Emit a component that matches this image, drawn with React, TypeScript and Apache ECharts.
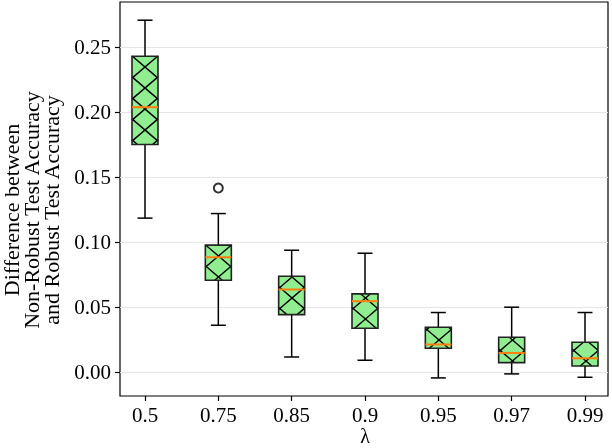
import React, { useEffect, useRef } from "react";
import * as echarts from "echarts";

const CATEGORIES = ["0.5", "0.75", "0.85", "0.9", "0.95", "0.97", "0.99"];
// [low whisker, Q1, median, Q3, high whisker]
const LOW = [0.1183, 0.0359, 0.0115, 0.009, -0.0046, -0.0015, -0.0041];
const Q1 = [0.1749, 0.0705, 0.0441, 0.0336, 0.0182, 0.0072, 0.0046];
const MEDIAN = [0.2036, 0.0882, 0.0634, 0.0544, 0.0211, 0.0146, 0.0105];
const Q3 = [0.2428, 0.0975, 0.0736, 0.06, 0.0344, 0.0267, 0.0228];
const HIGH = [0.2705, 0.1218, 0.0936, 0.0913, 0.0457, 0.0498, 0.0457];
const OUTLIERS: [number, number][] = [[1, 0.1415]];
const Y_TICKS = [0, 0.05, 0.1, 0.15, 0.2, 0.25];
const Y_MIN = -0.0185;
const Y_MAX = 0.2845;

const FONT = '"Liberation Serif", "Times New Roman", serif';

export default function App() {
  const ref = useRef<HTMLDivElement>(null);
  useEffect(() => {
    if (!ref.current) return;
    const chart = echarts.init(ref.current, null, { renderer: "svg" });
    const boxData = CATEGORIES.map((_, i) => [i, LOW[i], Q1[i], MEDIAN[i], Q3[i], HIGH[i]]);

    const HX = 24.5;
    const HY = 21;
    const HY0 = 67;

    const renderItem = (params: any, api: any) => {
      const i = api.value(0);
      const low = api.coord([i, api.value(1)]);
      const q1 = api.coord([i, api.value(2)]);
      const med = api.coord([i, api.value(3)]);
      const q3 = api.coord([i, api.value(4)]);
      const high = api.coord([i, api.value(5)]);
      const x0 = api.coord([0, 0])[0];
      const cx = low[0];
      const bw = 26;
      const half = bw / 2;
      const cap = 7.5;
      const xl = cx - half;
      const xr = cx + half;
      const yt = q3[1];
      const yb = q1[1];
      const wl = { stroke: "#000", lineWidth: 1.5 };
      const children: any[] = [
        { type: "line", shape: { x1: cx, y1: yt, x2: cx, y2: high[1] }, style: wl },
        { type: "line", shape: { x1: cx, y1: yb, x2: cx, y2: low[1] }, style: wl },
        { type: "line", shape: { x1: cx - cap, y1: high[1], x2: cx + cap, y2: high[1] }, style: wl },
        { type: "line", shape: { x1: cx - cap, y1: low[1], x2: cx + cap, y2: low[1] }, style: wl },
        { type: "rect", shape: { x: xl, y: yt, width: bw, height: yb - yt }, style: { fill: "#90ee90", stroke: "none" } },
      ];
      const s = HY / HX;
      const hs = { stroke: "#000", lineWidth: 1.4 };
      const kMin = Math.floor((yt - HY0 - Math.abs(xr - x0) * s - Math.abs(xl - x0) * s) / HY) - 2;
      const kMax = Math.ceil((yb - HY0 + Math.abs(xr - x0) * s + Math.abs(xl - x0) * s) / HY) + 2;
      for (let k = kMin; k <= kMax; k++) {
        const a = HY0 + k * HY - x0 * s;
        let xa = Math.max(xl, (yt - a) / s);
        let xb = Math.min(xr, (yb - a) / s);
        if (xb > xa) {
          children.push({ type: "line", shape: { x1: xa, y1: a + s * xa, x2: xb, y2: a + s * xb }, style: hs });
        }
        const b = HY0 + k * HY + x0 * s;
        xa = Math.max(xl, (b - yb) / s);
        xb = Math.min(xr, (b - yt) / s);
        if (xb > xa) {
          children.push({ type: "line", shape: { x1: xa, y1: b - s * xa, x2: xb, y2: b - s * xb }, style: hs });
        }
      }
      children.push({ type: "rect", shape: { x: xl, y: yt, width: bw, height: yb - yt }, style: { fill: "none", stroke: "#222", lineWidth: 1.6 } });
      children.push({ type: "line", shape: { x1: xl, y1: med[1], x2: xr, y2: med[1] }, style: { stroke: "#ff7f0e", lineWidth: 2 } });
      return { type: "group", children };
    };

    chart.setOption({
      animation: false,
      grid: [
        { left: 145, right: 27, top: 2, bottom: 52, show: false, containLabel: false, outerBoundsMode: "none" },
        {
          left: 120,
          right: 4,
          top: 2,
          bottom: 52,
          show: true,
          borderColor: "#000",
          borderWidth: 1.2,
          backgroundColor: "transparent",
          containLabel: false,
          outerBoundsMode: "none",
        },
      ],
      xAxis: [
        {
          type: "category",
          gridIndex: 0,
          data: CATEGORIES,
          boundaryGap: false,
          position: "bottom",
          axisLine: { show: false, onZero: false },
          axisTick: { show: true, length: 5, lineStyle: { color: "#000", width: 1.2 } },
          axisLabel: { color: "#000", fontSize: 21, fontFamily: FONT, margin: 8, lineHeight: 21 },
          splitLine: { show: false },
        },
        { type: "value", gridIndex: 1, show: false, min: 0, max: 1 },
      ],
      yAxis: [
        { type: "value", gridIndex: 0, show: false, min: Y_MIN, max: Y_MAX, splitLine: { show: false } },
        {
          type: "value",
          gridIndex: 1,
          min: Y_MIN,
          max: Y_MAX,
          axisLine: { show: false, onZero: false },
          axisTick: { show: true, length: 5, lineStyle: { color: "#000", width: 1.2 }, customValues: Y_TICKS },
          axisLabel: {
            color: "#000",
            fontSize: 21,
            fontFamily: FONT,
            margin: 9,
            customValues: Y_TICKS,
            formatter: (v: number) => v.toFixed(2),
          },
          splitLine: { show: true, lineStyle: { color: "#e6e6e6", width: 1 } },
        },
      ],
      graphic: [
        {
          type: "text",
          x: 31,
          y: 210,
          rotation: Math.PI / 2,
          style: {
            text: "Difference between\nNon-Robust Test Accuracy\nand Robust Test Accuracy",
            fontSize: 22,
            fontFamily: FONT,
            fill: "#000",
            align: "center",
            verticalAlign: "middle",
            lineHeight: 20,
          },
        },
        {
          type: "text",
          x: 365,
          y: 446,
          style: {
            text: "λ",
            fontSize: 20,
            fontFamily: FONT,
            fill: "#000",
            align: "center",
            verticalAlign: "bottom",
            lineHeight: 20,
          },
        },
      ],
      series: [
        {
          type: "custom",
          xAxisIndex: 0,
          yAxisIndex: 0,
          renderItem,
          data: boxData,
          encode: { x: 0, y: [1, 2, 3, 4, 5] },
          z: 3,
        },
        {
          type: "scatter",
          xAxisIndex: 0,
          yAxisIndex: 0,
          data: OUTLIERS,
          symbol: "circle",
          symbolSize: 9,
          itemStyle: { color: "#fff", borderColor: "#000", borderWidth: 2 },
          z: 4,
        },
      ],
    });
    return () => chart.dispose();
  }, []);
  return <div ref={ref} style={{ position: "fixed", left: 0, top: 0, width: 612, height: 448 }} />;
}
